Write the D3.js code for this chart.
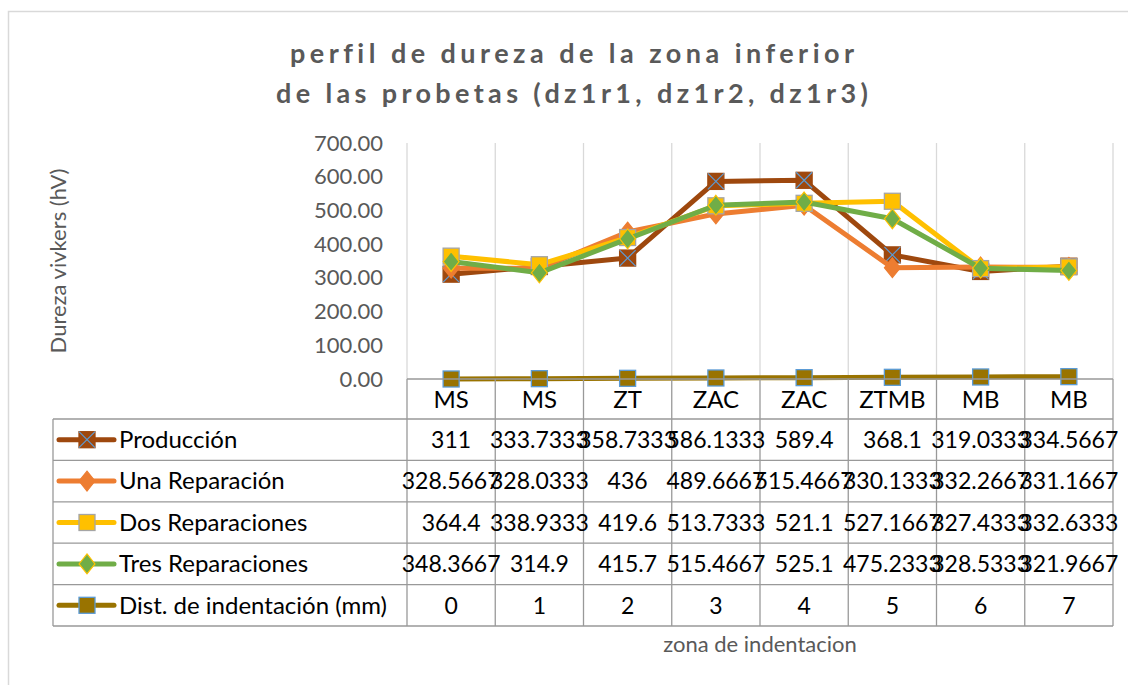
<!DOCTYPE html>
<html>
<head>
<meta charset="utf-8">
<script src="https://cdn.jsdelivr.net/npm/d3@7"></script>
<style>
  html, body { margin: 0; padding: 0; background: #fff; }
  svg text { font-family: Lato, "Open Sans", sans-serif; font-variant-ligatures: none; }
</style>
</head>
<body>
<svg id="chart" width="1128" height="685"></svg>
<script>
// Hardness profile data (Vickers), one value per indentation zone
const categories = ["MS", "MS", "ZT", "ZAC", "ZAC", "ZTMB", "MB", "MB"];
const produccion = [311, 333.7333, 358.7333, 586.1333, 589.4, 368.1, 319.0333, 334.5667];
const unaReparacion = [328.5667, 328.0333, 436, 489.6667, 515.4667, 330.1333, 332.2667, 331.1667];
const dosReparaciones = [364.4, 338.9333, 419.6, 513.7333, 521.1, 527.1667, 327.4333, 332.6333];
const tresReparaciones = [348.3667, 314.9, 415.7, 515.4667, 525.1, 475.2333, 328.5333, 321.9667];
const distIndentacion = [0, 1, 2, 3, 4, 5, 6, 7];
const seriesNames = ["Producción", "Una Reparación", "Dos Reparaciones", "Tres Reparaciones", "Dist. de indentación (mm)"];
const yTicks = [0, 100, 200, 300, 400, 500, 600, 700];
const titleLines = ["perfil de dureza de la zona inferior", "de las probetas (dz1r1, dz1r2, dz1r3)"];
const yAxisTitle = "Dureza vivkers (hV)";
const xAxisTitle = "zona de indentacion";

const seriesValues = [produccion, unaReparacion, dosReparaciones, tresReparaciones, distIndentacion];
const seriesStyle = [
  { color: "#9E480E", marker: "xsquare", fill: "#9E480E", stroke: "#5B9BD5" },
  { color: "#ED7D31", marker: "diamond", fill: "#ED7D31", stroke: "#ED7D31" },
  { color: "#FFC000", marker: "square", fill: "#FFC000", stroke: "#A5A5A5" },
  { color: "#70AD47", marker: "diamond", fill: "#70AD47", stroke: "#FFC000" },
  { color: "#997300", marker: "square", fill: "#997300", stroke: "#5B9BD5" }
];

const svg = d3.select("#chart");

// layout
const plotLeft = 407, plotRight = 1113, plotTop = 143, plotBottom = 379;
const rowH = 41.4, headerH = 40;
const tableLeft = 53;
const gridColor = "#d9d9d9", tableColor = "#999999";
const textGray = "#595959";
const numSize = 23, nameSize = 24;

// chart frame
svg.append("rect")
  .attr("x", 8.5).attr("y", 11.5).attr("width", 1300).attr("height", 900)
  .attr("fill", "#fff").attr("stroke", "#d9d9d9").attr("stroke-width", 1.5);

// title, spaced out across its line width
const titleWidths = [564, 592];
svg.append("g").selectAll("text").data(titleLines).join("text")
  .attr("x", 572).attr("y", (d, i) => 63 + i * 40)
  .attr("text-anchor", "middle")
  .attr("font-size", 27).attr("font-weight", 700)
  .attr("fill", textGray)
  .attr("textLength", (d, i) => titleWidths[i])
  .attr("lengthAdjust", "spacing")
  .text(d => d);

// scales
const x = d3.scaleBand().domain(d3.range(categories.length)).range([plotLeft, plotRight]).padding(0);
const y = d3.scaleLinear().domain([0, 700]).range([plotBottom, plotTop]);
const cx = i => x(i) + x.bandwidth() / 2;

// vertical gridlines at category boundaries
const bounds = d3.range(categories.length + 1).map(i => i < categories.length ? x(i) : plotRight);
svg.append("g").selectAll("line").data(bounds).join("line")
  .attr("x1", d => d).attr("x2", d => d)
  .attr("y1", plotTop).attr("y2", plotBottom)
  .attr("stroke", gridColor).attr("stroke-width", 1.3);

// y axis
const yAxis = d3.axisLeft(y).tickValues(yTicks).tickFormat(d3.format(".2f")).tickSize(0).tickPadding(24);
const yg = svg.append("g").attr("transform", `translate(${plotLeft},0)`).call(yAxis);
yg.select(".domain").remove();
yg.selectAll("text")
  .attr("font-size", 22).attr("fill", textGray)
  .style("font-family", "Lato, 'Open Sans', sans-serif");

// axis titles
svg.append("text")
  .attr("transform", `translate(66,261) rotate(-90)`)
  .attr("text-anchor", "middle")
  .attr("font-size", 22).attr("fill", textGray)
  .text(yAxisTitle);
svg.append("text")
  .attr("x", 760).attr("y", 652)
  .attr("text-anchor", "middle")
  .attr("font-size", 22).attr("fill", textGray)
  .text(xAxisTitle);

// markers
function drawMarker(g, st, px, py, s) {
  if (st.marker === "diamond") {
    const h = s * 0.62;
    g.append("path")
      .attr("d", `M${px},${py - h}L${px + h * 0.8},${py}L${px},${py + h}L${px - h * 0.8},${py}Z`)
      .attr("fill", st.fill).attr("stroke", st.stroke).attr("stroke-width", 1.2);
  } else {
    const h = s / 2;
    g.append("rect")
      .attr("x", px - h).attr("y", py - h).attr("width", s).attr("height", s)
      .attr("fill", st.fill)
      .attr("stroke", st.marker === "xsquare" ? st.fill : st.stroke)
      .attr("stroke-width", 1.3);
    if (st.marker === "xsquare") {
      g.append("path")
        .attr("d", `M${px - h},${py - h}L${px + h},${py + h}M${px + h},${py - h}L${px - h},${py + h}`)
        .attr("stroke", st.stroke).attr("stroke-width", 1.2).attr("fill", "none");
    }
  }
}

// series lines and markers
const line = d3.line().x((d, i) => cx(i)).y(d => y(d));
seriesValues.forEach((vals, si) => {
  const st = seriesStyle[si];
  const g = svg.append("g");
  g.append("path").datum(vals)
    .attr("d", line)
    .attr("fill", "none").attr("stroke", st.color)
    .attr("stroke-width", 5).attr("stroke-linejoin", "round").attr("stroke-linecap", "round");
  vals.forEach((v, i) => drawMarker(g, st, cx(i), y(v), 16));
});

// data table
const tg = svg.append("g");
const rowTop = i => plotBottom + headerH + i * rowH;
const tableBottom = rowTop(seriesNames.length);

// header row with category names
tg.selectAll("text.cat").data(categories).join("text")
  .attr("class", "cat")
  .attr("x", (d, i) => cx(i)).attr("y", plotBottom + 29)
  .attr("text-anchor", "middle")
  .attr("font-size", nameSize).attr("fill", "#000")
  .text(d => d);

// horizontal table lines
tg.append("line")
  .attr("x1", plotLeft).attr("x2", plotRight).attr("y1", plotBottom).attr("y2", plotBottom)
  .attr("stroke", tableColor).attr("stroke-width", 1.3);
tg.selectAll("line.h").data(d3.range(seriesNames.length + 1)).join("line")
  .attr("class", "h")
  .attr("x1", tableLeft).attr("x2", plotRight)
  .attr("y1", d => rowTop(d)).attr("y2", d => rowTop(d))
  .attr("stroke", tableColor).attr("stroke-width", 1.3);
// vertical table lines
tg.selectAll("line.v").data(bounds).join("line")
  .attr("class", "v")
  .attr("x1", d => d).attr("x2", d => d)
  .attr("y1", plotBottom).attr("y2", tableBottom)
  .attr("stroke", tableColor).attr("stroke-width", 1.3);
tg.append("line")
  .attr("x1", tableLeft).attr("x2", tableLeft)
  .attr("y1", rowTop(0)).attr("y2", tableBottom)
  .attr("stroke", tableColor).attr("stroke-width", 1.3);

// legend keys and row values (long values spill over neighbouring cells)
seriesNames.forEach((name, si) => {
  const st = seriesStyle[si];
  const top = rowTop(si);
  const mid = top + rowH / 2;
  const rg = tg.append("g");
  rg.append("line")
    .attr("x1", 59).attr("x2", 114).attr("y1", mid).attr("y2", mid)
    .attr("stroke", st.color).attr("stroke-width", 5).attr("stroke-linecap", "round");
  drawMarker(rg, st, 87, mid, 16);
  rg.append("text")
    .attr("x", 119).attr("y", top + 29)
    .attr("font-size", nameSize).attr("fill", "#000")
    .text(name);
  rg.selectAll("text.val").data(seriesValues[si]).join("text")
    .attr("class", "val")
    .attr("x", (d, i) => cx(i)).attr("y", top + 29)
    .attr("text-anchor", "middle")
    .attr("font-size", numSize).attr("fill", "#000")
    .text(d => String(d));
});
</script>
</body>
</html>
